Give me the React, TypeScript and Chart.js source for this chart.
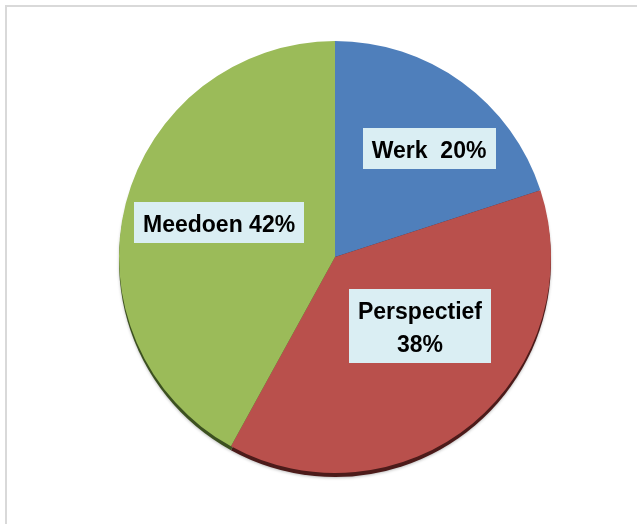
import React, { useEffect, useRef } from "react";
import { Chart, registerables } from "chart.js";

Chart.register(...registerables);

const categories = ["Werk", "Perspectief", "Meedoen"];
const values = [20, 38, 42];
const labelLines = [["Werk  20%"], ["Perspectief", "38%"], ["Meedoen 42%"]];
const sliceColors = ["#4F7FBB", "#B9504C", "#9BBB59"];
const shadowColors = ["#22385a", "#4c1b1a", "#3c5120"];

const shadowPlugin = {
  id: "sliceShadow",
  beforeDatasetsDraw(chart: any) {
    const ctx = chart.ctx;
    const meta = chart.getDatasetMeta(0);
    ctx.save();
    meta.data.forEach((arc: any, i: number) => {
      const { x, y, startAngle, endAngle, outerRadius } = arc.getProps(
        ["x", "y", "startAngle", "endAngle", "outerRadius"],
        true
      );
      ctx.shadowColor = "rgba(0,0,0,0.25)";
      ctx.shadowBlur = 3;
      ctx.shadowOffsetY = 1;
      ctx.fillStyle = shadowColors[i];
      ctx.beginPath();
      ctx.moveTo(x, y + 4);
      ctx.arc(x, y + 4, outerRadius, startAngle, endAngle);
      ctx.closePath();
      ctx.fill();
    });
    ctx.restore();
  },
};

const boxLabelPlugin = {
  id: "boxLabels",
  afterDatasetsDraw(chart: any, _args: any, opts: any) {
    const ctx = chart.ctx;
    const meta = chart.getDatasetMeta(0);
    ctx.save();
    ctx.font = opts.font;
    meta.data.forEach((arc: any, i: number) => {
      const { x, y, startAngle, endAngle, outerRadius } = arc.getProps(
        ["x", "y", "startAngle", "endAngle", "outerRadius"],
        true
      );
      const mid = (startAngle + endAngle) / 2 + (opts.angleShift[i] * Math.PI) / 180;
      const r = outerRadius * opts.radial[i];
      const cx = x + Math.cos(mid) * r;
      const cy = y + Math.sin(mid) * r;
      const lines = labelLines[i];
      const w = Math.max(...lines.map((l: string) => ctx.measureText(l).width)) + opts.padX * 2;
      const h = opts.baseH + opts.lineH * lines.length;
      const left = cx - w / 2;
      const top = cy - h / 2;
      ctx.fillStyle = opts.boxColor;
      ctx.fillRect(Math.round(left), Math.round(top), Math.round(w), Math.round(h));
      ctx.fillStyle = "#000000";
      ctx.textAlign = "center";
      ctx.textBaseline = "alphabetic";
      lines.forEach((l: string, k: number) => {
        ctx.fillText(l, cx, top + opts.firstBase + opts.lineH * k);
      });
    });
    ctx.restore();
  },
};

export default function App() {
  const ref = useRef<HTMLCanvasElement>(null);

  useEffect(() => {
    if (!ref.current) return;
    const chart = new Chart(ref.current, {
      type: "pie",
      data: {
        labels: categories,
        datasets: [
          {
            data: values,
            backgroundColor: sliceColors,
            borderWidth: 0,
          },
        ],
      },
      options: {
        responsive: false,
        animation: false,
        layout: { padding: { top: 41, bottom: 51, left: 118, right: 85 } },
        plugins: {
          legend: { display: false },
          tooltip: { enabled: false },
          boxLabels: {
            font: 'bold 23px "Liberation Sans", Arial, sans-serif',
            boxColor: "#DAEEF3",
            padX: 9,
            baseH: 8,
            lineH: 33,
            firstBase: 30,
            angleShift: [4.9, -11.3, 2.2],
            radial: [0.665, 0.507, 0.56],
          },
        } as any,
      },
      plugins: [shadowPlugin, boxLabelPlugin],
    });
    return () => chart.destroy();
  }, []);

  return (
    <div
      style={{
        position: "fixed",
        left: 0,
        top: 0,
        width: 637,
        height: 524,
        background: "#ffffff",
        overflow: "hidden",
      }}
    >
      <div
        style={{
          position: "absolute",
          left: 5,
          top: 5,
          right: 0,
          bottom: 0,
          borderLeft: "2px solid #D9D9D9",
          borderTop: "2px solid #D9D9D9",
        }}
      />
      <canvas
        ref={ref}
        width={637}
        height={524}
        style={{ position: "absolute", left: 0, top: 0, display: "block" }}
      />
    </div>
  );
}
